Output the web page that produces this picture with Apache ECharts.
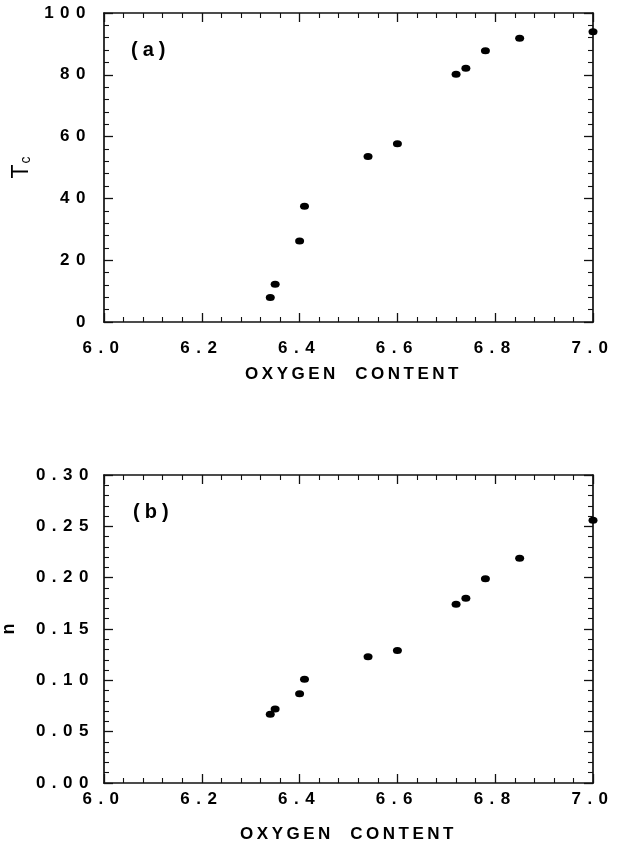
<!DOCTYPE html>
<html>
<head>
<meta charset="utf-8">
<script src="https://cdn.jsdelivr.net/npm/echarts@6/dist/echarts.min.js"></script>
<style>
html,body{margin:0;padding:0;background:#fff;}
#chart{width:624px;height:842px;}
</style>
</head>
<body>
<div id="chart"></div>
<script>
// ---- data ----
var oxygenContent = [6.34, 6.35, 6.40, 6.41, 6.54, 6.60, 6.72, 6.74, 6.78, 6.85, 7.00];
var tcValues      = [7.9, 12.2, 26.2, 37.5, 53.6, 57.7, 80.2, 82.1, 87.8, 91.8, 93.9];
var nValues       = [0.067, 0.072, 0.087, 0.101, 0.123, 0.129, 0.174, 0.180, 0.199, 0.219, 0.256];
var xTicks  = [6.0, 6.2, 6.4, 6.6, 6.8, 7.0];
var tcTicks = [0, 20, 40, 60, 80, 100];
var nTicks  = [0.00, 0.05, 0.10, 0.15, 0.20, 0.25, 0.30];

// letter-spaced typewriter look of the original figure
(function () {
  var P = window.CanvasRenderingContext2D && CanvasRenderingContext2D.prototype;
  if (!P) return;
  function sp(t) {
    t = String(t);
    if (/^[0-9.]+$/.test(t)) return '6.5px';
    if (/^\([ab]\)$/.test(t)) return '5px';
    if (t.length > 5) return '3.5px';
    return '0px';
  }
  var f = P.fillText, m = P.measureText;
  P.fillText = function (t, x, y, w) {
    var o = this.letterSpacing; this.letterSpacing = sp(t);
    var r = (w === undefined) ? f.call(this, t, x, y) : f.call(this, t, x, y, w);
    this.letterSpacing = o; return r;
  };
  P.measureText = function (t) {
    var o = this.letterSpacing; this.letterSpacing = sp(t);
    var r = m.call(this, t);
    this.letterSpacing = o; return r;
  };
})();

function pairs(xs, ys) { return xs.map(function (x, i) { return [x, ys[i]]; }); }

var INK = '#111';
var FONT = '"Liberation Sans", Arial, sans-serif';
var lineStyle = { color: INK, width: 1.7 };
var tick = { show: true, inside: true, length: 9, lineStyle: { color: INK, width: 1.3 } };
var minor = { show: true, splitNumber: 5, length: 5, lineStyle: { color: INK, width: 1.1 } };
var lbl = { color: '#000', fontFamily: FONT, fontWeight: 'bold', fontSize: 17 };

function xAxes(gi, margin, gap, pad) {
  return [{
    type: 'value', gridIndex: gi, position: 'bottom',
    min: xTicks[0], max: xTicks[xTicks.length - 1], interval: 0.2,
    axisLine: { show: true, onZero: false, lineStyle: lineStyle },
    axisTick: tick, minorTick: minor, splitLine: { show: false },
    axisLabel: Object.assign({ margin: margin, showMinLabel: true, showMaxLabel: true,
      formatter: function (v) { return v.toFixed(1); } }, lbl),
    name: 'OXYGEN  CONTENT', nameLocation: 'middle', nameGap: gap,
    nameTextStyle: { color: '#000', fontFamily: FONT, fontWeight: 'bold', fontSize: 17, padding: pad }
  }, {
    type: 'value', gridIndex: gi, position: 'top',
    min: xTicks[0], max: xTicks[xTicks.length - 1], interval: 0.2,
    axisLine: { show: true, onZero: false, lineStyle: lineStyle },
    axisTick: tick, minorTick: minor, splitLine: { show: false },
    axisLabel: { show: false }
  }];
}
function yAxes(gi, ticks, interval, digits, margin, name, nameGap, nameStyle) {
  return [{
    type: 'value', gridIndex: gi, position: 'left',
    min: ticks[0], max: ticks[ticks.length - 1], interval: interval,
    axisLine: { show: true, onZero: false, lineStyle: lineStyle },
    axisTick: tick, minorTick: minor, splitLine: { show: false },
    axisLabel: Object.assign({ margin: margin, showMinLabel: true, showMaxLabel: true,
      formatter: function (v) { return v.toFixed(digits); } }, lbl),
    name: name, nameLocation: 'middle', nameRotate: 90, nameGap: nameGap,
    nameTextStyle: nameStyle
  }, {
    type: 'value', gridIndex: gi, position: 'right',
    min: ticks[0], max: ticks[ticks.length - 1], interval: interval,
    axisLine: { show: true, onZero: false, lineStyle: lineStyle },
    axisTick: tick, minorTick: minor, splitLine: { show: false },
    axisLabel: { show: false }
  }];
}

var chart = echarts.init(document.getElementById('chart'), null, { renderer: 'canvas' });
var dot = { color: '#000', opacity: 1 };
chart.setOption({
  backgroundColor: '#fff',
  animation: false,
  title: [
    { text: '(a)', left: 131, top: 40, padding: 0,
      textStyle: { color: '#000', fontFamily: FONT, fontWeight: 'bold', fontSize: 20 } },
    { text: '(b)', left: 133, top: 502, padding: 0,
      textStyle: { color: '#000', fontFamily: FONT, fontWeight: 'bold', fontSize: 20 } }
  ],
  grid: [
    { left: 104, top: 13, width: 489, height: 309, containLabel: false, outerBoundsMode: 'none' },
    { left: 104, top: 475, width: 489, height: 308, containLabel: false, outerBoundsMode: 'none' }
  ],
  xAxis: xAxes(0, 18, 44, [0, 0, 0, 10]).concat(xAxes(1, 8, 43, [0, 0, 0, 0])),
  yAxis: yAxes(0, tcTicks, 20, 0, 12, 'T{sub|c}', 67, {
      color: '#000', fontFamily: FONT, fontSize: 23,
      rich: { sub: { fontSize: 14, fontFamily: FONT, color: '#000', verticalAlign: 'bottom', padding: [0, 0, 0, 1] } }
    }).concat(yAxes(1, nTicks, 0.05, 2, 9, 'n', 86, {
      color: '#000', fontFamily: FONT, fontWeight: 'bold', fontSize: 18
    })),
  series: [
    { type: 'scatter', xAxisIndex: 0, yAxisIndex: 0, data: pairs(oxygenContent, tcValues),
      symbol: 'circle', symbolSize: [9, 7], itemStyle: dot, clip: false },
    { type: 'scatter', xAxisIndex: 2, yAxisIndex: 2, data: pairs(oxygenContent, nValues),
      symbol: 'circle', symbolSize: [9, 7], itemStyle: dot, clip: false }
  ]
});
</script>
</body>
</html>
